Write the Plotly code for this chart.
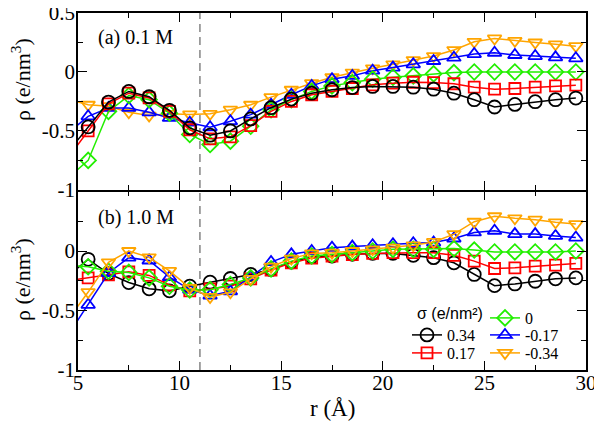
import plotly.graph_objects as go

# distance r (Angstrom); first point lies just left of the visible range
r = [4.5, 5.5, 6.5, 7.5, 8.5, 9.5, 10.5, 11.5, 12.5, 13.5, 14.5, 15.5, 16.5,
     17.5, 18.5, 19.5, 20.5, 21.5, 22.5, 23.5, 24.5, 25.5, 26.5, 27.5, 28.5, 29.5]

sigma_labels = ["0.34", "0.17", "0", "-0.17", "-0.34"]

# (a) 0.1 M
a_p034 = [-0.68, -0.466, -0.255, -0.165, -0.21, -0.325, -0.474, -0.536, -0.5, -0.398, -0.303, -0.23, -0.18,
          -0.151, -0.132, -0.123, -0.123, -0.129, -0.146, -0.18, -0.235, -0.297, -0.275, -0.252, -0.235, -0.221]
a_p017 = [-0.73, -0.5, -0.27, -0.18, -0.22, -0.335, -0.49, -0.567, -0.55, -0.455, -0.334, -0.25, -0.193,
          -0.165, -0.14, -0.109, -0.095, -0.087, -0.09, -0.1, -0.129, -0.146, -0.14, -0.129, -0.118, -0.112]
a_0 = [-0.9, -0.75, -0.334, -0.2, -0.235, -0.35, -0.53, -0.615, -0.587, -0.46, -0.32, -0.235, -0.165,
       -0.118, -0.09, -0.061, -0.045, -0.033, -0.016, -0.005, 0.0, 0.0, 0.0, 0.0, 0.0, 0.0]
a_m017 = [-0.52, -0.376, -0.305, -0.305, -0.342, -0.39, -0.43, -0.469, -0.418, -0.362, -0.278, -0.193, -0.118,
          -0.061, -0.033, 0.011, 0.037, 0.065, 0.093, 0.121, 0.152, 0.163, 0.144, 0.135, 0.124, 0.116]
a_m034 = [-0.23, -0.278, -0.29, -0.342, -0.37, -0.355, -0.36, -0.355, -0.32, -0.278, -0.213, -0.151, -0.095,
          -0.045, -0.005, 0.031, 0.065, 0.101, 0.135, 0.186, 0.256, 0.284, 0.264, 0.25, 0.234, 0.219]

# (b) 1.0 M
b_p034 = [-0.21, -0.07, -0.19, -0.265, -0.318, -0.335, -0.296, -0.262, -0.231, -0.197, -0.155, -0.093, -0.048,
          -0.042, -0.028, -0.02, -0.02, -0.036, -0.056, -0.099, -0.197, -0.291, -0.277, -0.254, -0.234, -0.226]
b_p017 = [-0.25, -0.225, -0.2, -0.175, -0.205, -0.285, -0.335, -0.319, -0.296, -0.234, -0.16, -0.1, -0.06,
          -0.042, -0.03, -0.02, -0.014, -0.014, -0.014, -0.036, -0.085, -0.147, -0.141, -0.127, -0.118, -0.104]
b_0 = [-0.12, -0.132, -0.17, -0.18, -0.226, -0.296, -0.328, -0.325, -0.282, -0.226, -0.15, -0.085, -0.042,
       -0.03, -0.014, 0.0, 0.014, 0.014, 0.014, 0.02, 0.008, -0.008, -0.008, -0.008, -0.008, 0.0]
b_m017 = [-0.71, -0.452, -0.185, -0.056, -0.08, -0.22, -0.325, -0.375, -0.339, -0.217, -0.093, -0.028, 0.0,
          0.028, 0.037, 0.048, 0.057, 0.065, 0.071, 0.105, 0.156, 0.17, 0.142, 0.142, 0.127, 0.113]
b_m034 = [-0.58, -0.345, -0.095, 0.0, -0.053, -0.167, -0.31, -0.386, -0.347, -0.234, -0.132, -0.064, -0.02,
          -0.014, 0.0, 0.014, 0.028, 0.048, 0.076, 0.142, 0.246, 0.292, 0.275, 0.263, 0.241, 0.226]

x_ticks = [5, 10, 15, 20, 25, 30]
y_ticks_top = [-1, -0.5, 0, 0.5]
y_ticks_bot = [-1, -0.5, 0]
r_divider = 11

colors = ["#000000", "#ff0000", "#22ee00", "#0000ff", "#ffa500"]
symbols = ["circle-open", "square-open", "diamond-open", "triangle-up-open", "triangle-down-open"]
sizes = [13, 11, 12, 12, 12]

SERIF = "Times New Roman, Liberation Serif, DejaVu Serif, serif"
SANS = "Arial, Liberation Sans, sans-serif"

# the page body has an 8px margin, so the figure is drawn 8px right/down
OFF = 8
W, H = 602 - OFF, 428 - OFF
ML, MR, MT, MB = 78 - OFF, 16, 13 - OFF, 58
PW, PH = W - ML - MR, H - MT - MB
LW = 1.6  # axis line width


def px_x(px):
    return (px - OFF - ML) / PW


def px_y(py):
    return (H - MB - (py - OFF)) / PH


fig = go.Figure()

top = [a_p034, a_p017, a_0, a_m017, a_m034]
bot = [b_p034, b_p017, b_0, b_m017, b_m034]
legend_names = ["legend", "legend2", "legend3", "legend4", "legend5"]


def add(series, idx, yaxis, show):
    fig.add_trace(go.Scatter(
        x=r, y=series, mode="lines+markers", name=sigma_labels[idx],
        xaxis="x" if yaxis == "y" else "x2", yaxis=yaxis,
        line=dict(color=colors[idx], width=1.5),
        marker=dict(symbol=symbols[idx], size=sizes[idx], color=colors[idx],
                    line=dict(width=1.8, color=colors[idx])),
        showlegend=show,
        legend=legend_names[idx],
    ))


for idx in [4, 3, 2, 1, 0]:
    add(top[idx], idx, "y", False)
for idx in [0, 1, 3, 2, 4]:
    add(bot[idx], idx, "y2", True)

axis_common = dict(showline=True, linecolor="black", linewidth=LW, mirror="allticks",
                   ticks="inside", ticklen=9, tickwidth=1.3, tickcolor="black",
                   showgrid=False, zeroline=False, automargin=False,
                   ticklabeloverflow="allow",
                   tickfont=dict(family=SERIF, size=21, color="black"))
xminor = dict(dtick=2.5, ticklen=5, tickwidth=1.3, tickcolor="black", ticks="inside")
yminor = dict(dtick=0.25, ticklen=5, tickwidth=1.3, tickcolor="black", ticks="inside")
split = 0.5 + LW / PH  # make the two shared border lines coincide

fig.update_layout(
    xaxis=dict(range=[5, 30], tickvals=x_ticks, showticklabels=False, anchor="y",
               minor=xminor, **axis_common),
    xaxis2=dict(range=[5, 30], tickvals=x_ticks, ticktext=[str(v) for v in x_ticks],
                anchor="y2", matches="x", minor=xminor, ticklabelstandoff=-7, **axis_common),
    yaxis=dict(range=[-1, 0.5], domain=[split, 1], anchor="x", tickvals=y_ticks_top,
               ticktext=["-1", "-0.5", "0", "0.5"], minor=yminor, ticklabelstandoff=-3,
               **axis_common),
    yaxis2=dict(range=[-1, 0.5], domain=[0, 0.5], anchor="x2", tickvals=y_ticks_bot,
                ticktext=["-1", "-0.5", "0"], minor=yminor, ticklabelstandoff=-3,
                **axis_common),
)

fig.add_shape(type="line", x0=r_divider, x1=r_divider, xref="x", yref="paper", y0=0, y1=1,
              line=dict(color="#8c8c8c", width=1.6, dash="8px,5px"), layer="below")

ann_font = dict(family=SERIF, size=20, color="black")
fig.add_annotation(text="(a) 0.1 M", x=px_x(96), y=px_y(38), xref="paper", yref="paper",
                   xanchor="left", yanchor="middle", showarrow=False, font=ann_font)
fig.add_annotation(text="(b) 1.0 M", x=px_x(96), y=px_y(218), xref="paper", yref="paper",
                   xanchor="left", yanchor="middle", showarrow=False, font=ann_font)
title_font = dict(family=SERIF, size=22, color="black")
fig.add_annotation(text="ρ (e/nm<sup>3</sup>)", x=px_x(21), y=px_y(80), xref="paper", yref="paper",
                   textangle=-90, xanchor="center", yanchor="middle", showarrow=False, font=title_font)
fig.add_annotation(text="ρ (e/nm<sup>3</sup>)", x=px_x(21), y=px_y(280), xref="paper", yref="paper",
                   textangle=-90, xanchor="center", yanchor="middle", showarrow=False, font=title_font)
fig.add_annotation(text="r (Å)", x=px_x(332), y=px_y(408), xref="paper", yref="paper",
                   xanchor="center", yanchor="middle", showarrow=False,
                   font=dict(family=SERIF, size=23, color="black"))
fig.add_annotation(text="σ (e/nm²)", x=px_x(415), y=px_y(313), xref="paper", yref="paper",
                   xanchor="left", yanchor="middle", showarrow=False,
                   font=dict(family=SANS, size=16, color="black"))

leg_common = dict(bgcolor="rgba(0,0,0,0)", borderwidth=0, itemwidth=30,
                  font=dict(family=SERIF, size=16, color="black"),
                  xanchor="left", yanchor="top", tracegroupgap=0, itemclick=False)
# legend entry positions (left edge px, top edge px) in page pixels
leg_pos = [(407, 318), (407, 336), (485, 301), (485, 318), (485, 336)]
fig.update_layout(**{name: dict(x=px_x(lx), y=px_y(ty), **leg_common)
                     for name, (lx, ty) in zip(legend_names, leg_pos)})

fig.update_layout(width=W, height=H, margin=dict(l=ML, r=MR, t=MT, b=MB, autoexpand=False),
                  paper_bgcolor="white", plot_bgcolor="white")

fig.write_html("out.html")
